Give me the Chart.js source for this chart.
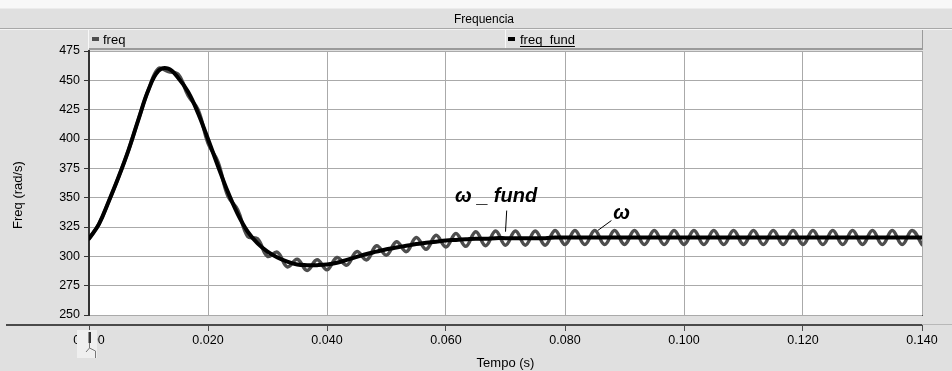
<!DOCTYPE html>
<html>
<head>
<meta charset="utf-8">
<title>Frequencia</title>
<script src="https://cdn.jsdelivr.net/npm/chart.js@4"></script>
<style>
  html, body { margin: 0; padding: 0; background: #e0e0e0; }
  canvas { display: block; }
</style>
</head>
<body>
<canvas id="grafico" width="952" height="371"></canvas>
<script>
// tempo (s), amostrado a cada meio periodo da ondulacao
const tempo = [0.00000, 0.00167, 0.00333, 0.00500, 0.00667, 0.00833, 0.01000, 0.01167, 0.01333, 0.01500,
  0.01667, 0.01833, 0.02000, 0.02167, 0.02333, 0.02500, 0.02667, 0.02833, 0.03000, 0.03167,
  0.03333, 0.03500, 0.03667, 0.03833, 0.04000, 0.04167, 0.04333, 0.04500, 0.04667, 0.04833,
  0.05000, 0.05167, 0.05333, 0.05500, 0.05667, 0.05833, 0.06000, 0.06167, 0.06333, 0.06500,
  0.06667, 0.06833, 0.07000, 0.07167, 0.07333, 0.07500, 0.07667, 0.07833, 0.08000, 0.08167,
  0.08333, 0.08500, 0.08667, 0.08833, 0.09000, 0.09167, 0.09333, 0.09500, 0.09667, 0.09833,
  0.10000, 0.10167, 0.10333, 0.10500, 0.10667, 0.10833, 0.11000, 0.11167, 0.11333, 0.11500,
  0.11667, 0.11833, 0.12000, 0.12167, 0.12333, 0.12500, 0.12667, 0.12833, 0.13000, 0.13167,
  0.13333, 0.13500, 0.13667, 0.13833, 0.14000];

// freq (rad/s) - com ondulacao
const freq = [315, 327.5, 347, 368, 391, 417, 442, 460, 457.5, 455,
  437, 425, 396.5, 380.5, 351.5, 339.5, 317, 315, 300, 303.5,
  291, 297.5, 288, 297, 288.5, 299, 292.5, 304, 297, 309,
  301, 312.5, 304, 316, 306, 318, 308, 319.5, 308.5, 321,
  309, 321.5, 309.5, 321.5, 309.5, 321.5, 309.5, 322, 310, 322,
  310, 322, 310, 322, 310, 322, 310, 322, 310, 322,
  310, 322, 310, 322, 310, 322, 310, 322, 310, 322,
  310, 322, 310, 322, 310, 322, 310, 322, 310, 322,
  310, 322, 310, 322, 310];

// freq_fund (rad/s) - componente fundamental
const freqFund = [315, 327.5, 347, 368, 391, 417, 442, 458, 460, 452,
  440, 422, 400, 377, 355, 336, 321, 311, 304, 299,
  295.5, 293, 292.5, 292.5, 293, 294.5, 297, 299.5, 302, 304,
  306, 307.5, 309, 310.5, 311.5, 312.5, 313.5, 314, 314.5, 315,
  315, 315.5, 315.5, 315.5, 315.5, 315.5, 315.5, 316, 316, 316,
  316, 316, 316, 316, 316, 316, 316, 316, 316, 316,
  316, 316, 316, 316, 316, 316, 316, 316, 316, 316,
  316, 316, 316, 316, 316, 316, 316, 316, 316, 316,
  316, 316, 316, 316, 316];

const eixoX = { min: 0, max: 0.14, passo: 0.02 };
const eixoY = { min: 250, max: 475, passo: 25 };

const FONTE = '"Liberation Sans", Arial, sans-serif';

function linha(ctx, x1, y1, x2, y2, cor, larg) {
  ctx.strokeStyle = cor;
  ctx.lineWidth = larg || 1;
  ctx.beginPath();
  ctx.moveTo(x1, y1);
  ctx.lineTo(x2, y2);
  ctx.stroke();
}

// moldura: barra de titulo, legenda e fundo da area do grafico
const moldura = {
  id: 'moldura',
  beforeDraw(chart) {
    const { ctx, chartArea: a, width, height } = chart;
    ctx.save();
    ctx.fillStyle = '#e0e0e0';
    ctx.fillRect(0, 0, width, height);
    ctx.fillStyle = '#f8f8f8';
    ctx.fillRect(0, 0, width, 8);

    // barra de titulo
    linha(ctx, 0, 8.5, width, 8.5, '#ececec');
    linha(ctx, 0, 28.5, width, 28.5, '#a8a8a8');
    linha(ctx, 0, 29.5, width, 29.5, '#f4f4f4');
    ctx.fillStyle = '#000';
    ctx.font = '12px ' + FONTE;
    ctx.textAlign = 'center';
    ctx.textBaseline = 'alphabetic';
    ctx.fillText('Frequencia', 484, 23);

    // legenda em duas celulas
    const meio = 505.5;
    linha(ctx, a.left - 0.5, 30, a.left - 0.5, 49, '#f8f8f8');
    linha(ctx, meio, 30, meio, 49, '#f8f8f8');
    linha(ctx, a.right + 0.5, 30, a.right + 0.5, 50, '#9a9a9a');
    linha(ctx, a.left, 49, a.right + 1, 49, '#9a9a9a', 2);

    ctx.font = '13px ' + FONTE;
    ctx.textAlign = 'left';
    ctx.fillStyle = '#4d4d4d';
    ctx.fillRect(92, 37, 7, 4);
    ctx.fillStyle = '#000';
    ctx.fillText('freq', 103, 44);
    ctx.fillRect(508, 37, 7, 4);
    ctx.fillText('freq_fund', 520, 44);
    const w = ctx.measureText('freq_fund').width;
    linha(ctx, 520, 46.5, 520 + w, 46.5, '#000');

    // area de plotagem
    ctx.fillStyle = '#fff';
    ctx.fillRect(a.left, a.top, a.right - a.left, a.bottom - a.top);
    ctx.restore();
  },
  afterDraw(chart) {
    const { ctx, chartArea: a, width } = chart;
    const sx = chart.scales.x, sy = chart.scales.y;
    ctx.save();

    // faixa entre a area e o eixo do tempo
    ctx.fillStyle = '#e0e0e0';
    ctx.fillRect(a.left - 3, a.bottom + 1, a.right - a.left + 6, 8);
    ctx.fillStyle = '#4a4a4a';
    ctx.fillRect(6, a.bottom + 9, a.right - 6, 2);
    linha(ctx, a.right, a.bottom + 9.5, width, a.bottom + 9.5, '#b8b8b8');

    // titulos dos eixos
    ctx.fillStyle = '#000';
    ctx.font = '13px ' + FONTE;
    ctx.textAlign = 'center';
    ctx.textBaseline = 'alphabetic';
    ctx.fillText('Tempo (s)', (a.left + a.right) / 2, 367);
    ctx.save();
    ctx.translate(22, 195);
    ctx.rotate(-Math.PI / 2);
    ctx.fillText('Freq (rad/s)', 0, 0);
    ctx.restore();

    // marcacoes das curvas
    ctx.font = 'italic bold 20px ' + FONTE;
    ctx.textAlign = 'left';
    ctx.fillText('\u03c9 _ fund', sx.getPixelForValue(0.0615), sy.getPixelForValue(346));
    linha(ctx, sx.getPixelForValue(0.0702), sy.getPixelForValue(339),
      sx.getPixelForValue(0.0700), sy.getPixelForValue(321), '#000');
    ctx.fillText('\u03c9', sx.getPixelForValue(0.0881), sy.getPixelForValue(332));
    linha(ctx, sx.getPixelForValue(0.0878), sy.getPixelForValue(330.5),
      sx.getPixelForValue(0.0855), sy.getPixelForValue(322), '#000');

    // cursor sobre o rotulo inicial
    ctx.fillStyle = '#efefef';
    ctx.fillRect(77, 330, 20, 28);
    ctx.fillStyle = '#333';
    ctx.fillRect(88.5, 332, 2.5, 11);
    linha(ctx, 89.5, 343, 89.5, 348, '#777');
    linha(ctx, 89.5, 348, 86, 352, '#777');
    linha(ctx, 89.5, 348, 95.5, 351, '#777');
    linha(ctx, 95.5, 351, 95.5, 358, '#777');
    ctx.restore();
  }
};

const pontos = (ys) => tempo.map((t, i) => ({ x: t, y: ys[i] }));

new Chart(document.getElementById('grafico'), {
  type: 'line',
  data: {
    datasets: [
      {
        label: 'freq_fund',
        data: pontos(freqFund),
        borderColor: '#000000',
        borderWidth: 4,
        pointRadius: 0,
        tension: 0.4,
        borderCapStyle: 'round',
        borderJoinStyle: 'round',
        order: 1
      },
      {
        label: 'freq',
        data: pontos(freq),
        borderColor: '#4d4d4d',
        borderWidth: 3.5,
        pointRadius: 0,
        tension: 0.4,
        borderCapStyle: 'round',
        borderJoinStyle: 'round',
        order: 2
      }
    ]
  },
  options: {
    responsive: false,
    animation: false,
    layout: { padding: { left: 0, right: 30, top: 51, bottom: 0 } },
    plugins: {
      legend: { display: false },
      title: { display: false },
      tooltip: { enabled: false }
    },
    scales: {
      x: {
        type: 'linear',
        min: eixoX.min,
        max: eixoX.max,
        afterFit(s) { s.height = 56; },
        ticks: {
          stepSize: eixoX.passo,
          autoSkip: false,
          maxRotation: 0,
          padding: 2,
          color: '#000',
          font: { family: FONTE, size: 12.5 },
          callback: (v) => v.toFixed(3)
        },
        grid: { color: '#aaaaaa', tickColor: '#4a4a4a', tickLength: 16, lineWidth: 1 },
        border: { display: false }
      },
      y: {
        min: eixoY.min,
        max: eixoY.max,
        afterFit(s) { s.width = 89; },
        ticks: {
          stepSize: eixoY.passo,
          padding: 4,
          color: '#000',
          font: { family: FONTE, size: 12.5 }
        },
        grid: { color: '#aaaaaa', tickColor: '#333333', tickLength: 5, lineWidth: 1 },
        border: { color: '#333333', width: 2 }
      }
    }
  },
  plugins: [moldura]
});
</script>
</body>
</html>
